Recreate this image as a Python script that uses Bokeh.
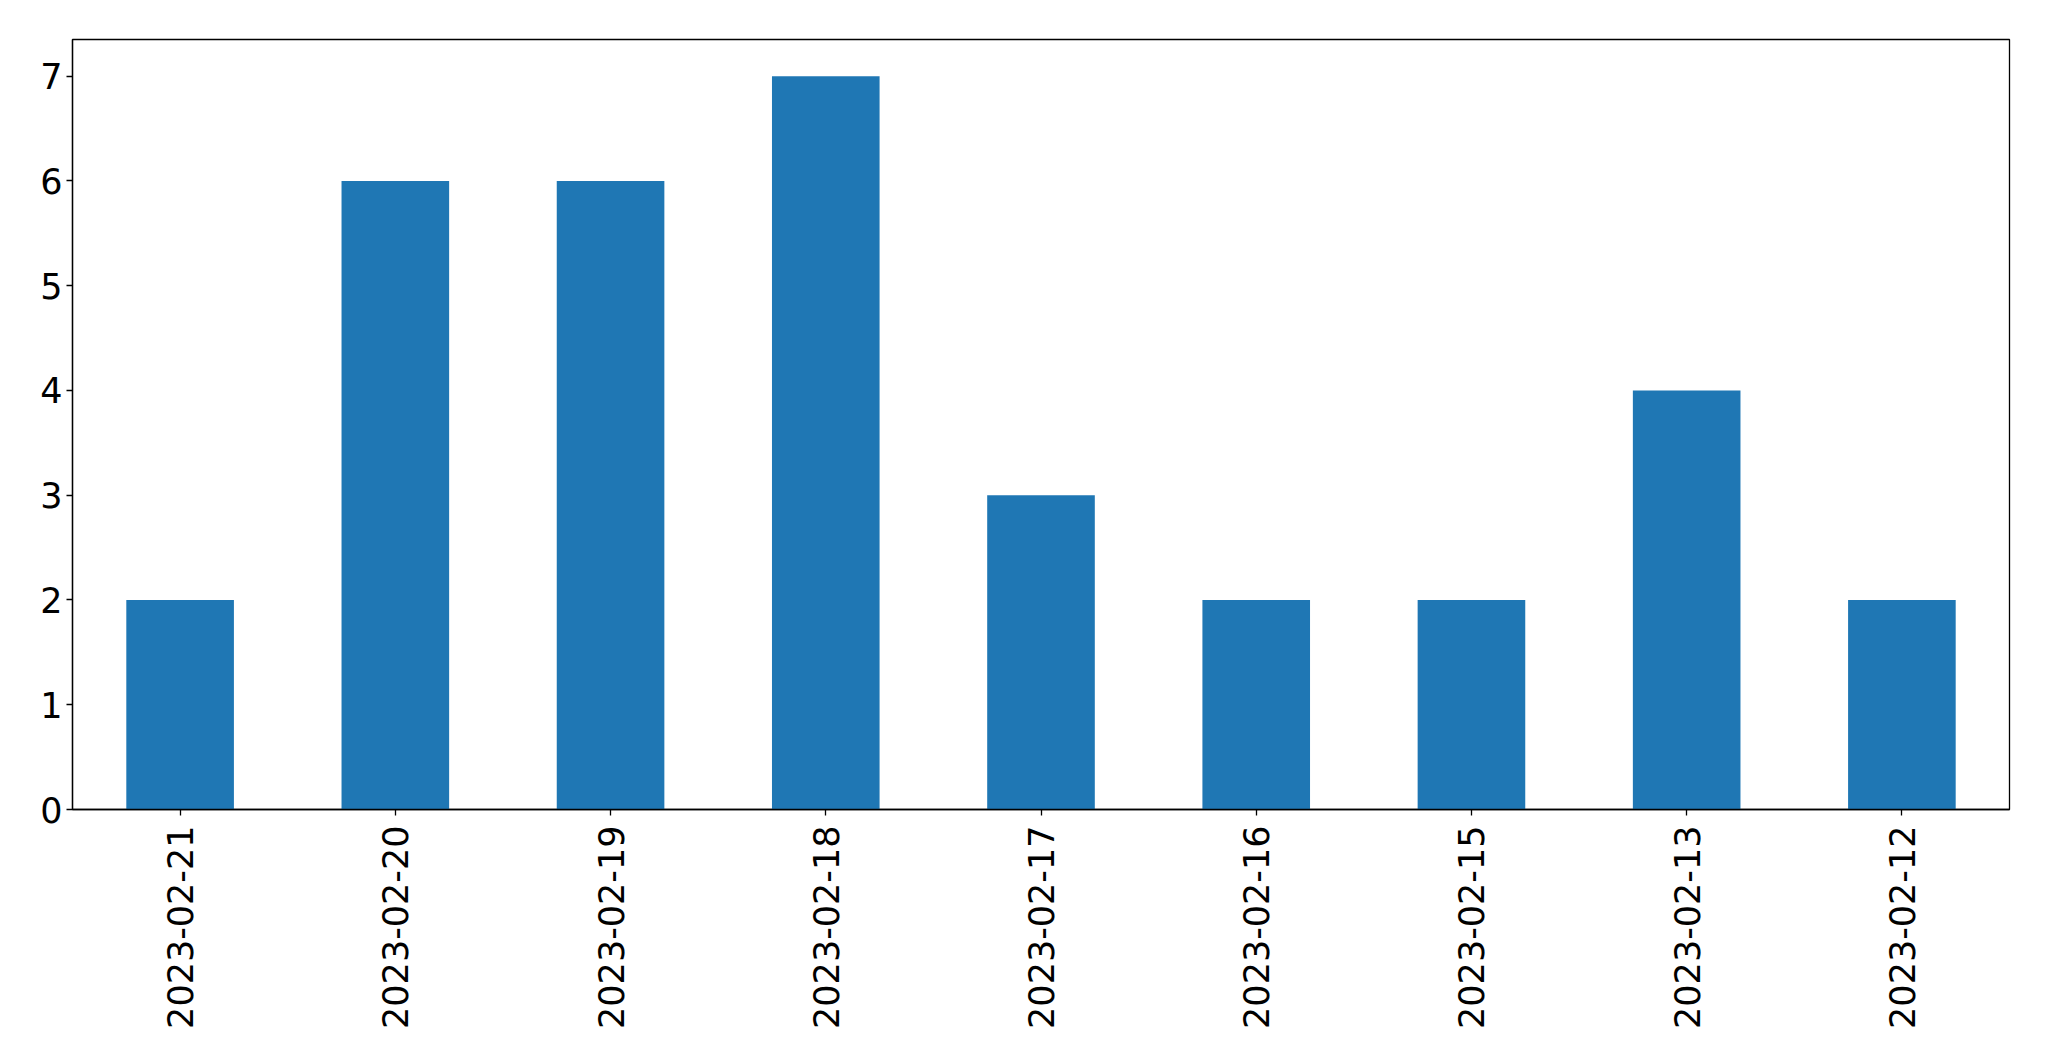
import math
from bokeh.plotting import figure
from bokeh.models import Range1d, FixedTicker, ColumnDataSource
from bokeh.embed import file_html
from bokeh.resources import INLINE

dates = ["2023-02-21", "2023-02-20", "2023-02-19", "2023-02-18", "2023-02-17",
         "2023-02-16", "2023-02-15", "2023-02-13", "2023-02-12"]
counts = [2, 6, 6, 7, 3, 2, 2, 4, 2]
y_ticks = [0, 1, 2, 3, 4, 5, 6, 7]

src = ColumnDataSource(data=dict(dates=dates, counts=counts))

p = figure(x_range=dates, y_range=Range1d(0, 7.35), width=2039, height=1045,
           output_backend="svg", toolbar_location=None,
           min_border_left=72, min_border_top=39, min_border_right=30, min_border_bottom=236)
p.x_range.range_padding = 0
p.vbar(x="dates", top="counts", width=0.5, source=src, color="#1f77b4", line_color=None)

p.xgrid.visible = False
p.ygrid.visible = False
p.outline_line_color = "black"
p.outline_line_width = 1.3
p.outline_line_alpha = 1

for ax in (p.xaxis, p.yaxis):
    ax.axis_line_color = "black"
    ax.axis_line_width = 1.3
    ax.major_tick_line_color = "black"
    ax.major_tick_line_width = 1.3
    ax.major_tick_out = 6
    ax.major_tick_in = 0
    ax.minor_tick_line_color = None
    ax.major_label_text_font = "DejaVu Sans"
    ax.major_label_text_font_size = "35px"
    ax.major_label_text_color = "black"

p.yaxis.ticker = FixedTicker(ticks=y_ticks)
p.yaxis.major_label_standoff = 4
p.xaxis.major_label_orientation = math.pi / 2
p.xaxis.major_label_standoff = 10

open("out.html", "w").write(file_html(p, INLINE))
